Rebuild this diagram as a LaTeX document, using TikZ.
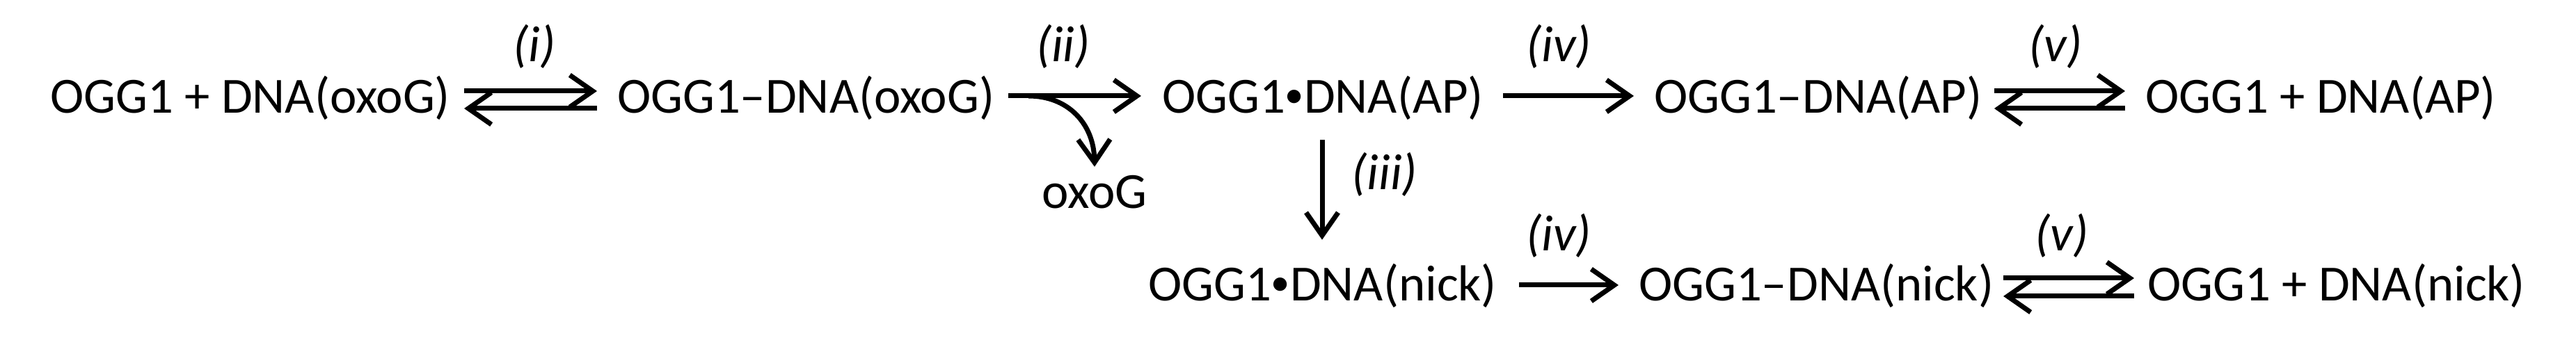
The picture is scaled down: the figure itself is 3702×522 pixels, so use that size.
\documentclass[tikz,border=0pt]{standalone}
\usepackage{fontspec}
\usepackage{graphicx}
\setmainfont{Carlito}
\usetikzlibrary{arrows.meta,calc}
\newcommand{\smbul}{\raisebox{0.12em}{\scalebox{0.75}{•}}}
\begin{document}
\begin{tikzpicture}[x=0.01cm,y=-0.01cm,
  chem/.style={inner sep=0pt, outer sep=0pt, anchor=base west, font=\fontsize{20.7}{25}\selectfont},
  lbl/.style={inner sep=0pt, outer sep=0pt, anchor=base, font=\fontsize{20.7}{25}\selectfont\itshape},
  rxn/.style={line width=0.07cm, -{Straight Barb[length=0.33cm,width=0.46cm]}},
]
\useasboundingbox (0,0) rectangle (3702,522);
% species
\node[chem] (A1) at (72,163) {OGG1 + DNA(oxoG)};
\node[chem] (A2) at (887,163) {OGG1–DNA(oxoG)};
\node[chem] (A3) at (1670,163) {OGG1\smbul DNA(AP)};
\node[chem] (A4) at (2377,163) {OGG1–DNA(AP)};
\node[chem] (A5) at (3083,163) {OGG1 + DNA(AP)};
\node[chem] (B1) at (1650,433) {OGG1\smbul DNA(nick)};
\node[chem] (B2) at (2355,433) {OGG1–DNA(nick)};
\node[chem] (B3) at (3086,433) {OGG1 + DNA(nick)};
\node[chem, anchor=base] (OX) at (1573,300) {oxoG};
% labels
\node[lbl] (Li) at (768,89) {(i)};
\node[lbl] (Lii) at (1528,89) {(ii)};
\node[lbl] (Liv) at (2240,89) {(iv)};
\node[lbl] (Lv) at (2954,89) {(v)};
\node[lbl] (Liii) at (1990,273) {(iii)};
\node[lbl] (Liv2) at (2240,361) {(iv)};
\node[lbl] (Lv2) at (2963,361) {(v)};
% (i) equilibrium
\draw[rxn] ([xshift=0.20cm,yshift=0.32cm]A1.base east) -- ([xshift=-0.29cm,yshift=0.32cm]A2.base west);
\draw[rxn] ([xshift=-0.29cm,yshift=0.07cm]A2.base west) -- ([xshift=0.20cm,yshift=0.07cm]A1.base east);
% (ii)
\draw[rxn] ([xshift=0.20cm,yshift=0.25cm]A2.base east) -- ([xshift=-0.30cm,yshift=0.25cm]A3.base west);
\coordinate (br) at (1478,138);
\draw[rxn] (br) .. controls (1535,138) and (1572,178) .. ([yshift=0.13cm]OX.north);
% (iv) row 1
\draw[rxn] ([xshift=0.28cm,yshift=0.25cm]A3.base east) -- ([xshift=-0.29cm,yshift=0.25cm]A4.base west);
% (v) row 1
\draw[rxn] ([xshift=0.18cm,yshift=0.32cm]A4.base east) -- ([xshift=-0.29cm,yshift=0.32cm]A5.base west);
\draw[rxn] ([xshift=-0.29cm,yshift=0.07cm]A5.base west) -- ([xshift=0.18cm,yshift=0.07cm]A4.base east);
% (iii)
\coordinate (dx) at (1900,0);
\draw[rxn] ($(A3.south -| dx)+(0,28)$) -- ($(B1.north -| dx)+(0,-35)$);
% (iv) row 2
\draw[rxn] ([xshift=0.32cm,yshift=0.23cm]B1.base east) -- ([xshift=-0.29cm,yshift=0.23cm]B2.base west);
% (v) row 2
\draw[rxn] ([xshift=0.14cm,yshift=0.33cm]B2.base east) -- ([xshift=-0.19cm,yshift=0.33cm]B3.base west);
\draw[rxn] ([xshift=-0.19cm,yshift=0.07cm]B3.base west) -- ([xshift=0.14cm,yshift=0.07cm]B2.base east);
\end{tikzpicture}
\end{document}
